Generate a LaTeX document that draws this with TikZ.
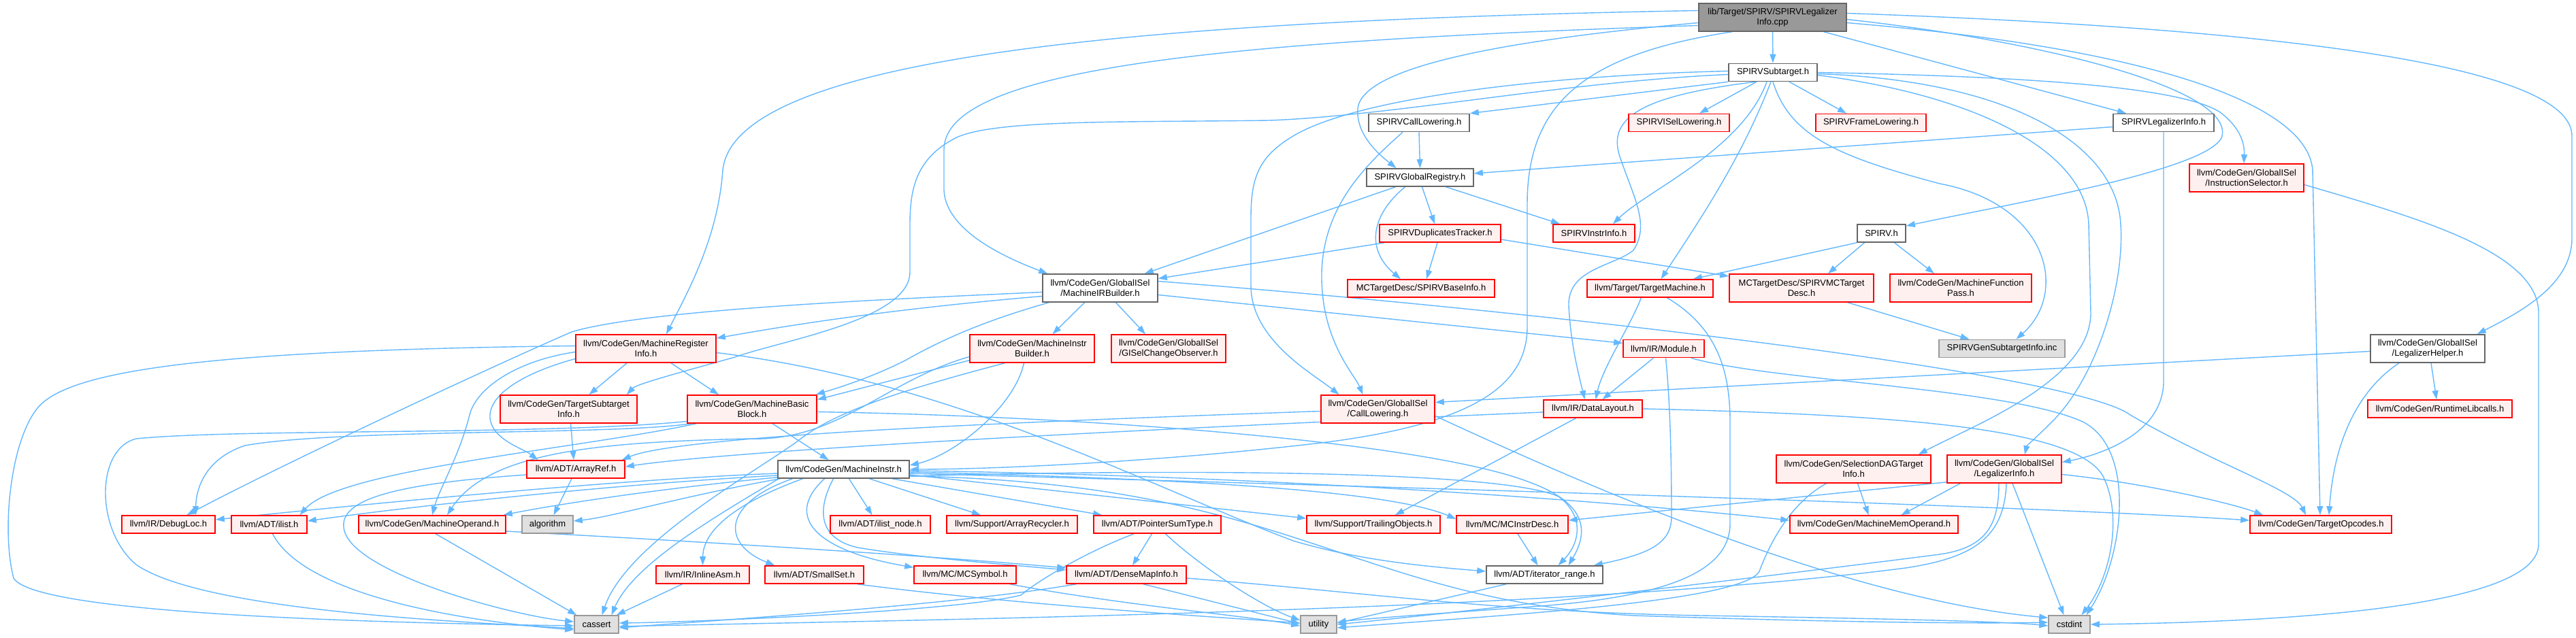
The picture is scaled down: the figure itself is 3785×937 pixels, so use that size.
\documentclass[tikz,border=0pt]{standalone}
\usepackage{fontspec}
\setmainfont{Liberation Sans}
\usetikzlibrary{arrows.meta,calc,backgrounds}
\definecolor{dxred}{HTML}{FF0000}
\definecolor{dxredf}{HTML}{FFF0F0}
\definecolor{dxgray}{HTML}{666666}
\definecolor{dxmain}{HTML}{999999}
\definecolor{dxsys}{HTML}{E0E0E0}
\definecolor{dxsysb}{HTML}{999999}
\definecolor{dxedge}{HTML}{63B8FF}
\newcommand{\mknode}[7]{\node[#2, minimum width=#5pt, minimum height=#6pt] (#1) at (#3,#4) {#7};}
\begin{document}
\begin{tikzpicture}[x=1pt,y=-1pt,
  base/.style={draw, line width=1.6pt, inner sep=0pt, align=center, font=\fontsize{13}{15}\selectfont, text=black},
  rn/.style={base, draw=dxred, fill=dxredf},
  wn/.style={base, draw=dxgray, fill=white},
  mn/.style={base, draw=dxgray, fill=dxmain},
  sn/.style={base, draw=dxsysb, fill=dxsys},
  ed/.style={draw=dxedge, line width=1.4pt, -{Triangle[length=13pt,width=9pt]}},
]
\useasboundingbox (0,0) rectangle (3785,937);
% nodes
\mknode{main}{mn}{2604.5}{25.5}{217}{41}{lib/Target/SPIRV/SPIRVLegalizer\\Info.cpp}
\mknode{subt}{wn}{2605}{106.5}{130}{26}{SPIRVSubtarget.h}
\mknode{spcall}{wn}{2085}{180.5}{148}{26}{SPIRVCallLowering.h}
\mknode{isel}{rn}{2467}{180.5}{148}{26}{SPIRVISelLowering.h}
\mknode{frame}{rn}{2749}{180.5}{162}{26}{SPIRVFrameLowering.h}
\mknode{legh}{wn}{3179}{180.5}{148}{26}{SPIRVLegalizerInfo.h}
\mknode{greg}{wn}{2086.5}{261}{157}{26}{SPIRVGlobalRegistry.h}
\mknode{instsel}{rn}{3301}{261.5}{168}{41}{llvm/CodeGen/GlobalISel\\/InstructionSelector.h}
\mknode{dup}{rn}{2116}{343}{178}{26}{SPIRVDuplicatesTracker.h}
\mknode{instrinfo}{rn}{2342}{343}{120}{26}{SPIRVInstrInfo.h}
\mknode{spirvh}{wn}{2764.5}{343}{71}{26}{SPIRV.h}
\mknode{mib}{wn}{1616.5}{423.5}{169}{41}{llvm/CodeGen/GlobalISel\\/MachineIRBuilder.h}
\mknode{baseinfo}{rn}{2088}{424}{216}{26}{MCTargetDesc/SPIRVBaseInfo.h}
\mknode{tm}{rn}{2424.5}{424}{185}{26}{llvm/Target/TargetMachine.h}
\mknode{mctd}{rn}{2647}{423.5}{212}{41}{MCTargetDesc/SPIRVMCTarget\\Desc.h}
\mknode{mfp}{rn}{2881}{423.5}{208}{41}{llvm/CodeGen/MachineFunction\\Pass.h}
\mknode{mri}{rn}{949}{512.5}{206}{41}{llvm/CodeGen/MachineRegister\\Info.h}
\mknode{minb}{rn}{1516.5}{512.5}{183}{41}{llvm/CodeGen/MachineInstr\\Builder.h}
\mknode{gisel}{rn}{1717}{512.5}{168}{41}{llvm/CodeGen/GlobalISel\\/GISelChangeObserver.h}
\mknode{module}{rn}{2444.5}{512.5}{119}{26}{llvm/IR/Module.h}
\mknode{gensub}{sn}{2941.5}{512.5}{185}{26}{SPIRVGenSubtargetInfo.inc}
\mknode{lhelper}{wn}{3567}{512.5}{168}{41}{llvm/CodeGen/GlobalISel\\/LegalizerHelper.h}
\mknode{tsi}{rn}{835.5}{601.5}{201}{41}{llvm/CodeGen/TargetSubtarget\\Info.h}
\mknode{mbb}{rn}{1105}{601.5}{190}{41}{llvm/CodeGen/MachineBasic\\Block.h}
\mknode{calll}{rn}{2024.5}{601.5}{167}{41}{llvm/CodeGen/GlobalISel\\/CallLowering.h}
\mknode{dl}{rn}{2340.5}{601}{145}{26}{llvm/IR/DataLayout.h}
\mknode{rtlib}{rn}{3585}{601}{212}{26}{llvm/CodeGen/RuntimeLibcalls.h}
\mknode{arrayref}{rn}{846}{690}{144}{26}{llvm/ADT/ArrayRef.h}
\mknode{mi}{wn}{1239.5}{690}{193}{26}{llvm/CodeGen/MachineInstr.h}
\mknode{sdag}{rn}{2723.5}{689.5}{227}{41}{llvm/CodeGen/SelectionDAGTarget\\Info.h}
\mknode{linfo}{rn}{2945}{689.5}{168}{41}{llvm/CodeGen/GlobalISel\\/LegalizerInfo.h}
\mknode{debugloc}{rn}{247.5}{771}{137}{26}{llvm/IR/DebugLoc.h}
\mknode{ilist}{rn}{395.5}{771}{111}{26}{llvm/ADT/ilist.h}
\mknode{mo}{rn}{635}{771}{216}{26}{llvm/CodeGen/MachineOperand.h}
\mknode{algorithm}{sn}{804.5}{771}{75}{26}{algorithm}
\mknode{ilistnode}{rn}{1293.5}{771}{147}{26}{llvm/ADT/ilist\_node.h}
\mknode{arec}{rn}{1487}{771}{192}{26}{llvm/Support/ArrayRecycler.h}
\mknode{pst}{rn}{1700.5}{771}{187}{26}{llvm/ADT/PointerSumType.h}
\mknode{trailing}{rn}{2018}{771}{196}{26}{llvm/Support/TrailingObjects.h}
\mknode{mcid}{rn}{2222}{771}{164}{26}{llvm/MC/MCInstrDesc.h}
\mknode{mmo}{rn}{2753.5}{771}{247}{26}{llvm/CodeGen/MachineMemOperand.h}
\mknode{topc}{rn}{3410}{771}{208}{26}{llvm/CodeGen/TargetOpcodes.h}
\mknode{inlineasm}{rn}{1032.5}{845}{137}{26}{llvm/IR/InlineAsm.h}
\mknode{smallset}{rn}{1196.5}{845}{145}{26}{llvm/ADT/SmallSet.h}
\mknode{mcsym}{rn}{1418}{845}{150}{26}{llvm/MC/MCSymbol.h}
\mknode{dmi}{rn}{1655}{845}{176}{26}{llvm/ADT/DenseMapInfo.h}
\mknode{itr}{wn}{2269.5}{845}{171}{26}{llvm/ADT/iterator\_range.h}
\mknode{cassert}{sn}{876.5}{918}{65}{26}{cassert}
\mknode{utility}{sn}{1937.5}{918}{53}{26}{utility}
\mknode{cstdint}{sn}{3040.5}{918}{61}{26}{cstdint}

\begin{pgfonlayer}{background}
\fill[white] (0,0) rectangle (3785,937);
% main
\draw[ed] (main.south) -- (subt.north);
\draw[ed] ($(main.south east)+(-34,0)$) -- ($(legh.north west)+(20,0)$);
\draw[ed] ($(main.east)+(0,3)$) .. controls (3000,60) and (3280,130) .. (3265,200) .. controls (3250,250) and (2950,300) .. ($(spirvh.north east)+(0,3)$);
\draw[ed] ($(main.west)+(0,8)$) .. controls (2200,60) and (2000,100) .. (1995,160) .. controls (1992,200) and (2030,230) .. ($(greg.north)+(-35,0)$);
\draw[ed] ($(main.east)+(0,-6)$) .. controls (3300,40) and (3779,90) .. (3779,200) -- (3779,350) .. controls (3779,420) and (3700,460) .. ($(lhelper.north east)+(-12,0)$);
\draw[ed] ($(main.east)+(0,8)$) .. controls (3150,70) and (3390,150) .. (3398,250) -- ($(topc.north)+(-1,0)$);
\draw[ed] ($(main.west)+(0,-10)$) .. controls (1700,30) and (1080,80) .. (1062,250) .. controls (1055,350) and (1010,430) .. ($(mri.north)+(30,0)$);
\draw[ed] ($(main.west)+(0,12)$) .. controls (1800,60) and (1387,100) .. (1387,220) -- (1387,280) .. controls (1390,340) and (1480,380) .. ($(mib.north west)+(8,0)$);
\draw[ed] ($(main.south)+(-60,0)$) .. controls (2330,80) and (2244,150) .. (2244,300) -- (2244,480) .. controls (2244,560) and (2180,620) .. (1950,650) .. controls (1700,680) and (1450,690) .. (mi.east);
% subtarget
\draw[ed] (subt.south west) -- (spcall.north east);
\draw[ed] ($(subt.south)+(-24,0)$) -- ($(isel.north)+(30,0)$);
\draw[ed] ($(subt.south)+(24,0)$) -- ($(frame.north)+(-36,0)$);
\draw[ed] ($(subt.south)+(-9,0)$) .. controls (2560,220) and (2420,280) .. ($(instrinfo.north)+(28,0)$);
\draw[ed] ($(subt.south)+(-3,0)$) .. controls (2560,230) and (2500,320) .. ($(tm.north)+(16,0)$);
\draw[ed] ($(subt.south west)+(40,0)$) .. controls (2420,140) and (2360,170) .. (2380,230) .. controls (2400,290) and (2425,330) .. (2400,368) .. controls (2370,392) and (2303,395) .. (2305,450) .. controls (2308,510) and (2322,560) .. ($(dl.north)+(-12,0)$);
\draw[ed] ($(subt.west)+(0,-2)$) .. controls (2300,110) and (2000,140) .. (1900,200) .. controls (1850,230) and (1838,260) .. (1838,320) -- (1838,420) .. controls (1838,500) and (1930,550) .. ($(calll.north)+(-57,0)$);
\draw[ed] ($(subt.west)+(0,3)$) .. controls (2300,120) and (2050,170) .. (1865,177) .. controls (1650,180) and (1450,175) .. (1400,205) .. controls (1345,235) and (1337,280) .. (1337,330) -- (1337,400) .. controls (1337,470) and (1150,500) .. (1080,525) .. controls (990,550) and (935,565) .. ($(tsi.north east)+(-16,0)$);
\draw[ed] (subt.east) .. controls (2950,112) and (3200,125) .. (3262,165) .. controls (3295,190) and (3298,215) .. ($(instsel.north)+(-4,0)$);
\draw[ed] ($(subt.east)+(0,4)$) .. controls (2900,140) and (3065,220) .. (3069,330) -- (3072,460) .. controls (3072,560) and (2900,625) .. ($(sdag.north east)+(-19,0)$);
\draw[ed] ($(subt.east)+(0,2)$) .. controls (2950,118) and (3110,210) .. (3116,330) .. controls (3122,420) and (3080,560) .. (3010,625) .. controls (2990,645) and (2978,655) .. ($(linfo.north)+(30,0)$);
\draw[ed] (subt.south) .. controls (2630,200) and (2700,230) .. (2850,270) .. controls (3010,300) and (3040,430) .. ($(gensub.north)+(21,0)$);
% SPIRVCallLowering
\draw[ed] (spcall.south) -- (greg.north);
\draw[ed] ($(spcall.south)+(-24,0)$) .. controls (2010,240) and (1945,300) .. (1942,400) .. controls (1940,500) and (1990,550) .. ($(calll.north)+(-22,0)$);
% SPIRVLegalizerInfo.h
\draw[ed] ($(legh.west)+(0,6)$) -- ($(greg.east)+(0,-6)$);
\draw[ed] (legh.south) -- (3179,560) .. controls (3179,640) and (3080,670) .. ($(linfo.east)+(0,-10)$);
% GlobalRegistry
\draw[ed] ($(greg.south)+(3,0)$) -- ($(dup.north)+(-8,0)$);
\draw[ed] ($(greg.south)+(38,0)$) -- ($(instrinfo.north)+(-50,0)$);
\draw[ed] ($(greg.south)+(-22,0)$) .. controls (2010,320) and (2010,370) .. ($(baseinfo.north)+(-30,0)$);
\draw[ed] ($(greg.south)+(-36,0)$) -- ($(mib.north east)+(-20,0)$);
% DuplicatesTracker
\draw[ed] ($(dup.south west)+(8,0)$) -- ($(mib.east)+(0,-14)$);
\draw[ed] ($(dup.south)+(-4,0)$) -- ($(baseinfo.north)+(8,0)$);
\draw[ed] ($(dup.east)+(0,9)$) -- ($(mctd.north west)+(0,4)$);
% SPIRV.h
\draw[ed] (spirvh.south west) -- ($(tm.north east)+(-30,0)$);
\draw[ed] ($(spirvh.south)+(-25,0)$) -- ($(mctd.north)+(39,0)$);
\draw[ed] ($(spirvh.south)+(19,0)$) -- ($(mfp.north)+(-39,0)$);
\draw[ed] ($(mctd.south)+(68,0)$) -- ($(gensub.north)+(-48,0)$);
% TargetMachine
\draw[ed] ($(tm.south)+(-13,0)$) .. controls (2395,480) and (2355,540) .. ($(dl.north)+(4,0)$);
\draw[ed] ($(tm.south)+(25,0)$) .. controls (2520,480) and (2542,540) .. (2542,620) -- (2542,770) .. controls (2542,850) and (2420,880) .. (2250,892) .. controls (2100,903) and (2000,910) .. ($(utility.east)+(0,-3)$);
% Module
\draw[ed] ($(module.south)+(-15,0)$) -- ($(dl.north)+(14,0)$);
\draw[ed] ($(module.south)+(3,0)$) .. controls (2455,600) and (2456,700) .. (2456,760) .. controls (2456,800) and (2420,815) .. ($(itr.north east)+(-14,0)$);
\draw[ed] ($(module.south east)+(-20,0)$) .. controls (2600,560) and (2950,570) .. (3060,620) .. controls (3140,660) and (3120,820) .. ($(cstdint.north)+(25,0)$);
% LegalizerHelper
\draw[ed] ($(lhelper.west)+(0,4)$) -- ($(calll.east)+(0,-10)$);
\draw[ed] ($(lhelper.south)+(5,0)$) -- ($(rtlib.north)+(-5,0)$);
\draw[ed] ($(lhelper.south)+(-42,0)$) .. controls (3470,570) and (3430,640) .. ($(topc.north)+(12,0)$);
% LegalizerInfo
\draw[ed] ($(linfo.east)+(0,8)$) .. controls (3150,710) and (3280,740) .. ($(topc.north west)+(20,0)$);
\draw[ed] ($(linfo.south)+(12,0)$) -- ($(cstdint.north)+(-8,0)$);
\draw[ed] ($(linfo.south west)+(0,-2)$) -- ($(mcid.east)+(0,-6)$);
\draw[ed] ($(linfo.south west)+(20,0)$) -- ($(mmo.north)+(40,0)$);
\draw[ed] ($(linfo.south)+(-8,0)$) .. controls (2937,770) and (2920,805) .. (2850,815) .. controls (2500,860) and (2100,905) .. (utility.east);
\draw[ed] ($(linfo.south)+(3,0)$) .. controls (2945,790) and (2900,820) .. (2800,835) .. controls (2300,900) and (1300,912) .. ($(cassert.east)+(0,3)$);
% SelectionDAG
\draw[ed] ($(sdag.south)+(6,0)$) -- ($(mmo.north)+(-8,0)$);
\draw[ed] ($(sdag.south)+(-40,0)$) .. controls (2630,740) and (2600,800) .. (2585,840) .. controls (2560,885) and (2200,905) .. ($(utility.east)+(0,5)$);
% CallLowering
\draw[ed] ($(calll.west)+(0,3)$) .. controls (1500,620) and (1000,640) .. ($(arrayref.north east)+(-5,0)$);
\draw[ed] ($(calll.east)+(0,10)$) .. controls (2300,700) and (2700,880) .. ($(cstdint.north west)+(0,4)$);
% DataLayout
\draw[ed] ($(dl.west)+(0,5)$) .. controls (1700,630) and (1100,660) .. ($(arrayref.east)+(0,-4)$);
\draw[ed] ($(dl.south)+(-25,0)$) -- ($(trailing.north)+(32,0)$);
\draw[ed] (dl.east) .. controls (2800,610) and (3050,630) .. (3090,700) .. controls (3120,760) and (3100,850) .. ($(cstdint.north)+(18,0)$);
% MachineRegisterInfo
\draw[ed] ($(mri.south)+(-28,0)$) -- ($(tsi.north)+(30,0)$);
\draw[ed] ($(mri.south)+(37,0)$) -- ($(mbb.north)+(-49,0)$);
\draw[ed] ($(mri.west)+(0,15)$) .. controls (780,545) and (722,575) .. (720,610) .. controls (718,645) and (770,660) .. ($(arrayref.north west)+(17,0)$);
\draw[ed] ($(mri.west)+(0,5)$) .. controls (760,530) and (700,570) .. (690,610) .. controls (675,670) and (645,720) .. (mo.north);
\draw[ed] ($(mri.west)+(0,-4)$) .. controls (300,515) and (100,545) .. (55,600) .. controls (15,650) and (2,780) .. (20,850) .. controls (50,900) and (500,915) .. ($(cassert.west)+(0,2)$);
\draw[ed] ($(mri.east)+(0,6)$) .. controls (1400,560) and (1700,720) .. (1900,795) .. controls (2000,825) and (2100,833) .. ($(itr.west)+(0,-5)$);
\draw[ed] ($(tsi.south)+(3,0)$) -- ($(arrayref.north)+(-3,0)$);
% MachineBasicBlock
\draw[ed] ($(mbb.south)+(30,0)$) -- ($(mi.north)+(-22,0)$);
\draw[ed] ($(mbb.south west)+(6,0)$) .. controls (900,640) and (500,630) .. (360,655) .. controls (300,675) and (288,720) .. ($(debugloc.north)+(40,0)$);
\draw[ed] ($(mbb.south west)+(14,0)$) .. controls (850,660) and (500,690) .. ($(ilist.north)+(45,0)$);
\draw[ed] ($(mbb.west)+(0,18)$) .. controls (800,640) and (350,630) .. (200,645) .. controls (140,660) and (140,780) .. (200,830) .. controls (300,900) and (700,915) .. ($(cassert.west)+(0,6)$);
\draw[ed] ($(mbb.east)+(0,4)$) .. controls (1600,612) and (2100,650) .. (2250,710) .. controls (2330,740) and (2335,780) .. ($(itr.north)+(35,0)$);
% MachineIRBuilder
\draw[ed] ($(mib.south)+(-23,0)$) -- ($(minb.north)+(30,0)$);
\draw[ed] ($(mib.south)+(23,0)$) -- ($(gisel.north)+(-34,0)$);
\draw[ed] ($(mib.west)+(0,6)$) .. controls (1300,440) and (950,455) .. (840,488) .. controls (720,540) and (420,680) .. ($(debugloc.north)+(27,0)$);
\draw[ed] ($(mib.west)+(0,12)$) .. controls (1300,455) and (1150,480) .. ($(mri.north east)+(0,6)$);
\draw[ed] ($(mib.south west)+(10,0)$) .. controls (1470,465) and (1400,490) .. (1330,530) .. controls (1270,560) and (1215,575) .. ($(mbb.north east)+(-2,0)$);
\draw[ed] ($(mib.east)+(0,10)$) -- ($(module.west)+(0,-8)$);
\draw[ed] ($(mib.east)+(0,-10)$) .. controls (2300,460) and (3050,550) .. (3130,610) .. controls (3250,680) and (3370,720) .. ($(topc.north)+(-22,0)$);
% MachineInstrBuilder
\draw[ed] ($(minb.south west)+(0,-4)$) -- ($(mbb.east)+(0,-14)$);
\draw[ed] ($(minb.south)+(-12,0)$) .. controls (1490,600) and (1400,670) .. ($(mi.east)+(0,-6)$);
\draw[ed] ($(minb.west)+(0,12)$) .. controls (1300,560) and (1230,650) .. (1100,645) .. controls (900,650) and (720,660) .. ($(mo.north)+(22,0)$);
\draw[ed] ($(minb.south)+(-40,0)$) .. controls (1300,580) and (1220,610) .. (1170,650) .. controls (1100,700) and (920,800) .. ($(cassert.north)+(8,0)$);
% MachineInstr
\draw[ed] ($(mi.west)+(0,6)$) .. controls (900,705) and (500,745) .. ($(debugloc.east)+(0,-7)$);
\draw[ed] ($(mi.west)+(0,9)$) .. controls (900,712) and (600,745) .. ($(ilist.east)+(0,-5)$);
\draw[ed] ($(mi.south west)+(0,-2)$) .. controls (950,720) and (800,745) .. ($(mo.north east)+(-4,0)$);
\draw[ed] ($(mi.south west)+(4,0)$) .. controls (1000,730) and (900,760) .. ($(algorithm.east)+(0,-5)$);
\draw[ed] ($(mi.south)+(8,0)$) -- ($(ilistnode.north)+(-12,0)$);
\draw[ed] ($(mi.south)+(38,0)$) -- ($(arec.north)+(-46,0)$);
\draw[ed] ($(mi.south east)+(-26,0)$) -- ($(pst.north west)+(13,0)$);
\draw[ed] ($(mi.east)+(0,8)$) -- ($(trailing.west)+(0,-9)$);
\draw[ed] ($(mi.east)+(0,4)$) .. controls (1800,705) and (2050,725) .. ($(mcid.west)+(0,-8)$);
\draw[ed] ($(mi.east)+(0,2)$) .. controls (1900,700) and (2400,740) .. ($(mmo.west)+(0,-6)$);
\draw[ed] ($(mi.east)+(0,6)$) .. controls (2200,720) and (3000,745) .. ($(topc.west)+(0,-6)$);
\draw[ed] ($(mi.south)+(-60,0)$) .. controls (1080,740) and (1033,780) .. (inlineasm.north);
\draw[ed] ($(mi.south)+(-75,0)$) .. controls (1060,740) and (1060,800) .. ($(smallset.north west)+(15,0)$);
\draw[ed] ($(mi.south)+(-28,0)$) .. controls (1150,760) and (1200,810) .. ($(mcsym.north west)+(0,3)$);
\draw[ed] ($(mi.south)+(-15,0)$) .. controls (1205,740) and (1195,790) .. (1260,805) .. controls (1350,820) and (1480,830) .. ($(dmi.west)+(0,-7)$);
\draw[ed] ($(mi.east)+(0,10)$) .. controls (1700,690) and (2200,690) .. (2290,730) .. controls (2330,760) and (2320,800) .. ($(itr.north)+(20,0)$);
\draw[ed] ($(mi.south west)+(2,0)$) .. controls (1050,760) and (930,830) .. ($(cassert.north)+(22,0)$);
\draw[ed] ($(mi.east)+(0,10)$) .. controls (1900,710) and (1980,880) .. (2400,905) .. controls (2700,915) and (2900,917) .. ($(cstdint.west)+(0,-3)$);
% lower rows
\draw[ed] ($(smallset.south east)+(-10,0)$) .. controls (1500,890) and (1800,908) .. ($(utility.west)+(0,-2)$);
\draw[ed] ($(mcsym.south east)+(-10,0)$) .. controls (1650,890) and (1830,905) .. ($(utility.west)+(0,2)$);
\draw[ed] ($(inlineasm.south)+(-30,0)$) -- ($(cassert.north east)+(-4,0)$);
\draw[ed] ($(pst.south)+(-8,0)$) -- ($(dmi.north)+(9,0)$);
\draw[ed] ($(pst.south west)+(60,0)$) .. controls (1600,810) and (1530,850) .. (1500,875) .. controls (1400,900) and (1000,915) .. ($(cassert.east)+(0,-2)$);
\draw[ed] ($(pst.south)+(12,0)$) .. controls (1760,830) and (1850,890) .. ($(utility.west)+(0,-6)$);
\draw[ed] ($(dmi.south)+(25,0)$) -- ($(utility.west)+(0,-1)$);
\draw[ed] ($(dmi.south west)+(15,0)$) .. controls (1400,890) and (1050,912) .. ($(cassert.east)+(0,5)$);
\draw[ed] ($(dmi.east)+(0,5)$) .. controls (2000,870) and (2200,900) .. (2500,905) .. controls (2800,910) and (2950,914) .. ($(cstdint.west)+(0,2)$);
\draw[ed] ($(mo.south)+(5,0)$) -- ($(cassert.north west)+(4,0)$);
\draw[ed] ($(mo.east)+(0,10)$) .. controls (1100,800) and (1400,820) .. ($(dmi.west)+(0,-10)$);
\draw[ed] ($(ilist.south)+(5,0)$) .. controls (450,880) and (700,915) .. ($(cassert.west)+(0,8)$);
\draw[ed] ($(arrayref.south)+(-6,0)$) -- ($(algorithm.north)+(9,0)$);
\draw[ed] ($(arrayref.west)+(0,8)$) .. controls (600,710) and (500,730) .. (505,775) .. controls (510,840) and (750,905) .. ($(cassert.west)+(0,-4)$);
\draw[ed] ($(itr.south west)+(30,0)$) -- ($(utility.east)+(0,-2)$);
\draw[ed] ($(mcid.south)+(8,0)$) -- ($(itr.north)+(-10,0)$);
\draw[ed] ($(instsel.east)+(0,10)$) .. controls (3550,320) and (3730,370) .. (3730,460) -- (3730,800) .. controls (3730,900) and (3300,915) .. (cstdint.east);
\end{pgfonlayer}
\end{tikzpicture}
\end{document}
